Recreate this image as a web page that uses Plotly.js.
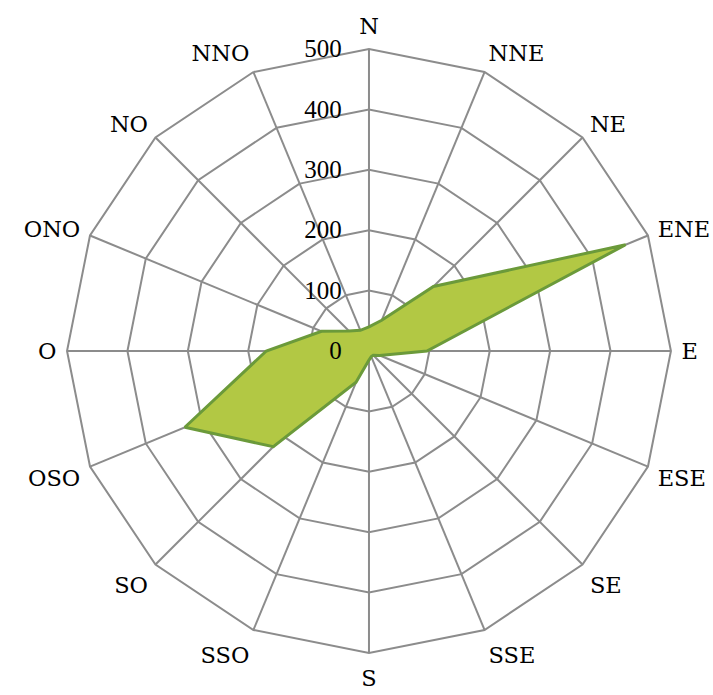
<!DOCTYPE html>
<html>
<head>
<meta charset="utf-8">
<script src="https://cdn.plot.ly/plotly-3.0.1.min.js"></script>
<style>html,body{margin:0;padding:0;background:#fff;}#chart{width:713px;height:695px;}</style>
</head>
<body>
<div id="chart"></div>
<script>
const directions = ["N","NNE","NE","ENE","E","ESE","SE","SSE","S","SSO","SO","OSO","O","ONO","NO","NNO"];
const values = [40, 55, 151, 460, 96, 19, 10, 10, 15, 56, 224, 330, 170, 85, 47, 37];
const radialTicks = [0, 100, 200, 300, 400, 500];

const theta = directions.concat([directions[0]]);
const r = values.concat([values[0]]);

const trace = {
  type: 'scatterpolar',
  r: r,
  theta: theta,
  mode: 'lines',
  fill: 'toself',
  fillcolor: '#b2c844',
  line: {color: '#6b9a3a', width: 3},
  hoverinfo: 'skip'
};

const layout = {
  width: 713, height: 695,
  margin: {l: 0, r: 0, t: 0, b: 0},
  paper_bgcolor: '#fff',
  showlegend: false,
  polar: {
    domain: {x: [0.094, 0.941], y: [0.0604, 0.9295]},
    bgcolor: '#fff',
    gridshape: 'linear',
    angularaxis: {
      type: 'category',
      categoryarray: directions,
      rotation: 90,
      direction: 'clockwise',
      showline: true,
      linecolor: '#8c8c8c',
      linewidth: 2,
      gridcolor: '#8c8c8c',
      gridwidth: 2,
      ticks: 'outside',
      ticklen: 5,
      tickcolor: 'rgba(0,0,0,0)',
      tickfont: {family: "'DejaVu Serif', serif", size: 22.5, color: '#000'}
    },
    radialaxis: {
      range: [0, 500],
      tickvals: radialTicks,
      ticktext: radialTicks.map(String),
      angle: 90,
      tickangle: 90,
      side: 'counterclockwise',
      showline: false,
      ticks: 'outside',
      ticklen: 18,
      tickcolor: 'rgba(0,0,0,0)',
      gridcolor: '#8c8c8c',
      gridwidth: 2,
      tickfont: {family: "'Liberation Serif', serif", size: 25, color: '#000'}
    }
  }
};

Plotly.newPlot('chart', [trace], layout, {displayModeBar: false, staticPlot: true});
</script>
</body>
</html>
